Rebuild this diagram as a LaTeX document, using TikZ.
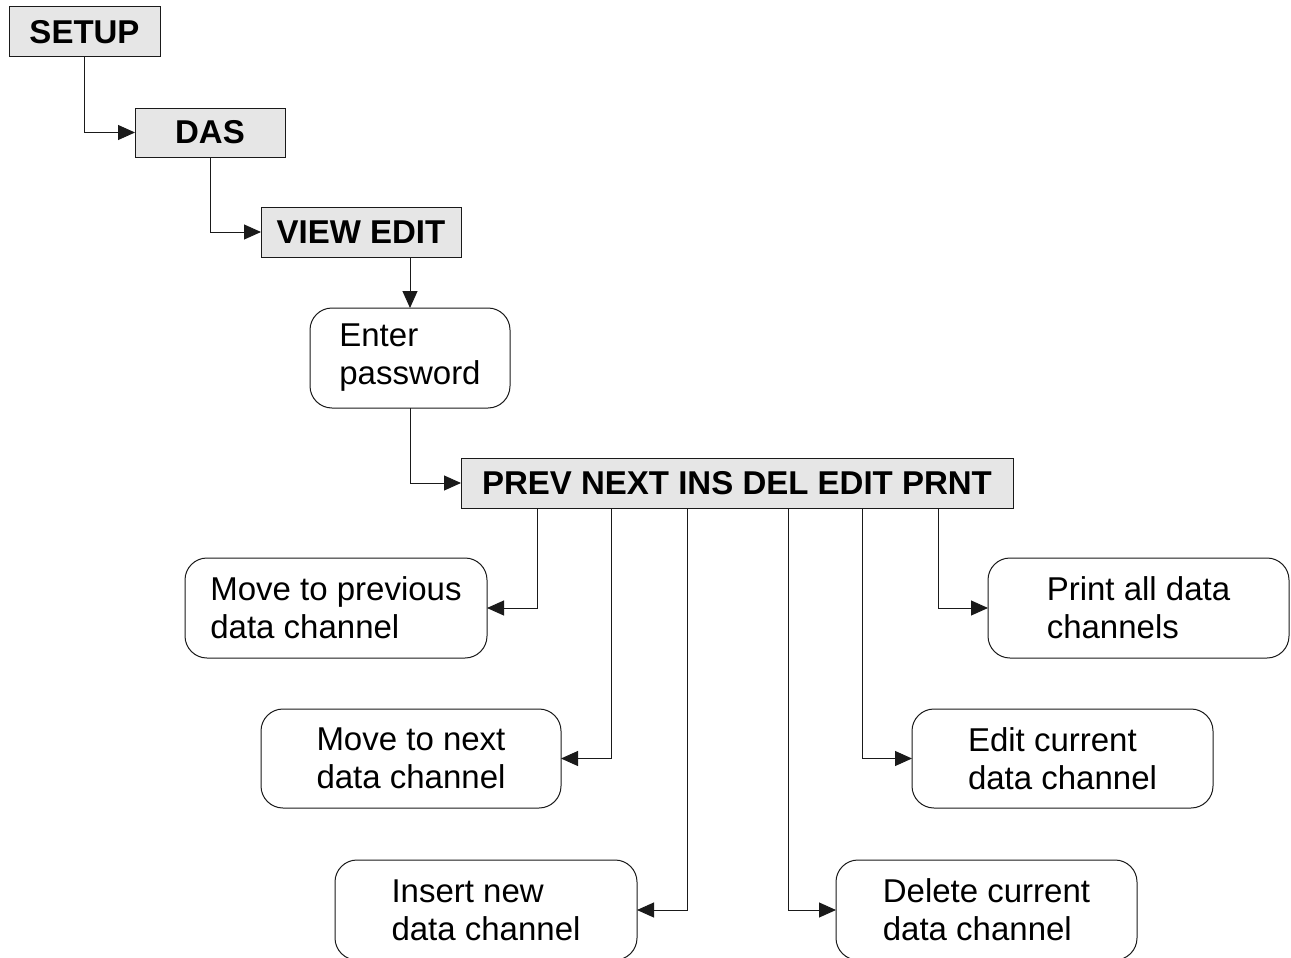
\documentclass[tikz,border=0pt]{standalone}
\usepackage{fontspec}
\setmainfont{Liberation Sans}
\usetikzlibrary{arrows.meta}
\definecolor{boxfill}{HTML}{E6E6E6}
\definecolor{edge}{HTML}{1A1A1A}
\begin{document}
\begin{tikzpicture}[x=1pt,y=-1pt,
  every node/.style={font=\fontsize{33}{38}\selectfont, inner sep=0pt, outer sep=0pt},
  menubox/.style={draw=edge, line width=1pt, fill=boxfill, font=\fontsize{33}{38}\selectfont\bfseries},
  actbox/.style={draw=edge, line width=1pt, fill=white, rounded corners=22pt, align=left, minimum width=301pt, minimum height=100pt},
  link/.style={draw=edge, line width=1pt},
  arr/.style={link, -{Triangle[length=17pt,width=15pt]}}]
\useasboundingbox (0,0) rectangle (1291,958);
\clip (0,0) rectangle (1291,958);
\node[menubox, minimum width=151pt, minimum height=50pt] (setup) at (84.5,32) {SETUP};
\node[menubox, minimum width=150pt, minimum height=49pt] (das) at (210,132.5) {DAS};
\node[menubox, minimum width=200pt, minimum height=50pt] (view) at (361,232) {VIEW EDIT};
\node[actbox, minimum width=200pt] (pw) at (410,358) {Enter\\password};
\node[menubox, minimum width=552pt, minimum height=50pt] (menu) at (737,483) {PREV NEXT INS DEL EDIT PRNT};
\node[actbox, minimum width=302pt] (mprev) at (336,608) {Move to previous\\data channel};
\node[actbox, minimum width=300pt, minimum height=99pt] (mnext) at (411,758.5) {Move to next\\data channel};
\node[actbox, minimum width=302pt] (ins) at (486,910) {Insert new\\data channel};
\node[actbox] (del) at (986.5,910) {Delete current\\data channel};
\node[actbox, minimum height=99pt] (edit) at (1062.5,758.5) {Edit current\\data channel};
\node[actbox] (prnt) at (1138.5,608) {Print all data\\channels};
\coordinate (p1) at (537,508);
\coordinate (p2) at (611,508);
\coordinate (p3) at (687,508);
\coordinate (p4) at (788,508);
\coordinate (p5) at (862,508);
\coordinate (p6) at (938,508);
\draw[arr] (setup.south) |- (das.west);
\draw[arr] (das.south) |- (view.west);
\draw[arr] (pw.north |- view.south) -- (pw.north);
\draw[arr] (pw.south) |- (menu.west);
\draw[arr] (p1) |- (mprev.east);
\draw[arr] (p2) |- (mnext.east);
\draw[arr] (p3) |- (ins.east);
\draw[arr] (p4) |- (del.west);
\draw[arr] (p5) |- (edit.west);
\draw[arr] (p6) |- (prnt.west);
\end{tikzpicture}
\end{document}
